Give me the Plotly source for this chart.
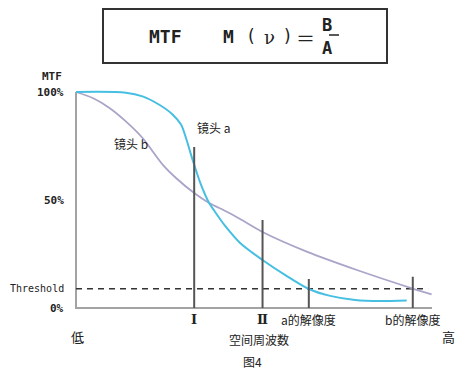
import plotly.graph_objects as go

# ---- data (x: spatial frequency 0..100, y: MTF %) ----
freq_a = [0, 14.0, 18.7, 23.4, 27.2, 29.5, 30.9, 32.3, 33.2, 35.1, 37.4, 38.9, 41.9, 46.1,
          52.4, 58.7, 65.4, 71.4, 78.4, 85.4, 92.9]
mtf_a = [100, 99.7, 98.0, 94.1, 89.5, 84.9, 78.7, 71.0, 66.3, 57.1, 48.6, 44.9, 38.0, 30.1,
         22.2, 15.3, 8.8, 5.6, 3.7, 3.2, 3.5]

freq_b = [0, 4.7, 9.4, 14.0, 18.7, 21.5, 24.4, 28.1, 33.2, 37.4, 42.1, 46.1, 52.4, 64.8,
          78.9, 94.6, 99.9]
mtf_b = [100, 97.2, 92.6, 86.4, 78.7, 72.6, 66.3, 60.2, 53.2, 48.6, 44.8, 41.2, 35.2, 26.1,
         17.6, 9.0, 6.3]

marker_x = [33.2, 52.4, 65.4, 94.6]
marker_top = [74.5, 40.7, 13.4, 14.5]
marker_labels = ["Ⅰ", "Ⅱ", "a的解像度", "b的解像度"]
threshold = 8.9
ytick_vals = [100, 50, threshold, 0]
ytick_text = ["100%", "50%", "Threshold", "0%"]

# page body has an 8px margin; figure sized to fill the rest of the window
OFF = 8
W, H = 470 - OFF, 381 - OFF
def px(x):
    return (x - OFF) / W
def py(y):
    return 1 - (y - OFF) / H

CJK = "Noto Sans CJK JP, Noto Sans CJK SC, sans-serif"
MONO = "DejaVu Sans Mono, monospace"
SERIF = "DejaVu Serif, Liberation Serif, serif"

fig = go.Figure()

# axis lines
fig.add_trace(go.Scatter(x=[0, 0, 100], y=[100, 0, 0], mode="lines",
                         line=dict(color="#a3a3a3", width=2), hoverinfo="skip", showlegend=False))
# threshold
fig.add_trace(go.Scatter(x=[0, 98.9], y=[threshold, threshold], mode="lines",
                         line=dict(color="#333333", width=1.5, dash="6px,5px"),
                         hoverinfo="skip", showlegend=False))
# curves
fig.add_trace(go.Scatter(x=freq_b, y=mtf_b, mode="lines",
                         line=dict(color="#aaa4c9", width=1.8, shape="spline", smoothing=0.8),
                         showlegend=False))
fig.add_trace(go.Scatter(x=freq_a, y=mtf_a, mode="lines",
                         line=dict(color="#47bfe2", width=2, shape="spline", smoothing=0.8),
                         showlegend=False))
# vertical markers
for mx, mt in zip(marker_x, marker_top):
    fig.add_trace(go.Scatter(x=[mx, mx], y=[0, mt], mode="lines", line=dict(color="#555555", width=2),
                             hoverinfo="skip", showlegend=False))

ann = []
for mx, lab in zip(marker_x, marker_labels):
    roman = "的" not in lab
    ann.append(dict(x=mx, y=py(319), xref="x", yref="paper",
                    text="<b>" + lab + "</b>" if roman else lab, showarrow=False,
                    font=dict(family=SERIF if roman else CJK, size=13 if roman else 12, color="#222"),
                    xanchor="center", yanchor="middle"))
for v, t in zip(ytick_vals, ytick_text):
    is_th = t == "Threshold"
    ann.append(dict(x=px(66), xref="paper", y=v, yref="y",
                    text=t if is_th else "<b>" + t + "</b>", showarrow=False,
                    font=dict(family=MONO, size=10 if is_th else 11, color="#222"),
                    xanchor="right", yanchor="middle"))
texts = [
    ("<b>MTF</b>", 52, 76, MONO, 11),
    ("镜头 a", 213, 127, CJK, 12),
    ("镜头 b", 131, 143, CJK, 12),
    ("低", 77, 336, CJK, 13),
    ("空间周波数", 259, 339, CJK, 12),
    ("高", 448, 336, CJK, 13),
    ("图4", 252, 361, CJK, 12),
    ("<b>MTF</b>", 165, 36, MONO, 18),
    ("<b>M</b>", 228, 36, MONO, 18),
    ("(", 251, 36, "DejaVu Sans, sans-serif", 17),
    ("ν", 269, 37, SERIF, 18),
    (")", 287, 36, "DejaVu Sans, sans-serif", 17),
    ("＝", 305, 37, CJK, 19),
    ("<b>B</b>", 327, 25, MONO, 17),
    ("<b>A</b>", 327, 48, MONO, 17),
]
for t, x, y, f, s in texts:
    ann.append(dict(x=px(x), y=py(y), xref="paper", yref="paper", text=t, showarrow=False,
                    font=dict(family=f, size=s, color="#222"), xanchor="center", yanchor="middle"))

shapes = [
    dict(type="rect", xref="paper", yref="paper", x0=px(103), x1=px(387), y0=py(63), y1=py(9),
         line=dict(color="#333333", width=2), fillcolor="rgba(0,0,0,0)"),
    dict(type="line", xref="paper", yref="paper", x0=px(329), x1=px(339), y0=py(35), y1=py(35),
         line=dict(color="#222", width=1.5)),
]

fig.update_layout(
    width=W, height=H, margin=dict(l=0, r=0, t=0, b=0),
    paper_bgcolor="white", plot_bgcolor="white",
    xaxis=dict(range=[-5, 105], domain=[px(58.2), px(449.8)], visible=False, fixedrange=True),
    yaxis=dict(range=[-5, 105], domain=[py(318.8), py(81.2)], visible=False, fixedrange=True),
    annotations=ann, shapes=shapes, showlegend=False,
)
fig.write_html("out.html")
